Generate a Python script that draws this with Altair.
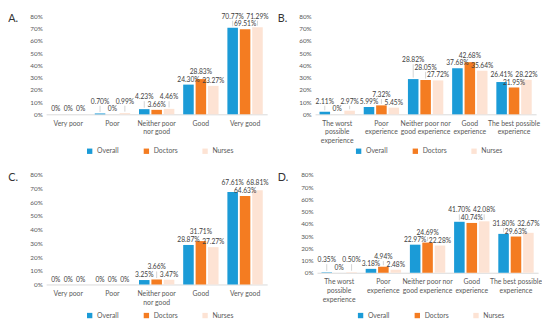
import altair as alt
import pandas as pd

series = ["Overall", "Doctors", "Nurses"]
colors = ["#1b9bd7", "#f47c21", "#fde3d4"]

cats_rating = ["Very poor", "Poor", "Neither poor|nor good", "Good", "Very good"]
cats_exp = ["The worst|possible|experience", "Poor|experience",
            "Neither poor nor|good experience", "Good|experience",
            "The best possible|experience"]

a_overall = [0, 0.70, 4.23, 24.30, 70.77]
a_doctors = [0, 0, 3.66, 28.83, 69.51]
a_nurses = [0, 0.99, 4.46, 23.27, 71.29]

b_overall = [2.11, 5.99, 28.82, 37.68, 26.41]
b_doctors = [0, 7.32, 28.05, 42.68, 21.95]
b_nurses = [2.97, 5.45, 27.72, 35.64, 28.22]

c_overall = [0, 0, 3.25, 28.87, 67.61]
c_doctors = [0, 0, 3.66, 31.71, 64.63]
c_nurses = [0, 0, 3.47, 27.27, 68.81]

d_overall = [0.35, 3.18, 22.97, 41.70, 31.80]
d_doctors = [0, 4.94, 24.69, 40.74, 29.63]
d_nurses = [0.50, 2.48, 22.28, 42.08, 32.67]

yticks = [0, 0.1, 0.2, 0.3, 0.4, 0.5, 0.6, 0.7, 0.8]
FONT = "Lato"
W = 226
FS = 6.8


def place_labels(vals, labels, h, slot):
    """Greedy placement of data labels (pixels above the axis), lowest bars first."""
    tops = [v / 80 * h for v in vals]
    widths = [len(t) * FS * 0.55 for t in labels]
    order = sorted(range(3), key=lambda i: (tops[i], i))
    placed = {}
    for i in order:
        L = tops[i] + 2
        moved = True
        while moved:
            moved = False
            for j, Lj in placed.items():
                hov = abs(i - j) * slot < (widths[i] + widths[j]) / 2 + 1
                vov = abs(L - Lj) < FS
                if hov and vov:
                    L = Lj + FS + 1
                    moved = True
        placed[i] = L
    return [placed[i] for i in range(3)], tops


def panel(title, cats, ov, dr, nu, h, legend_y):
    slot = W / 5 * 0.8 / 3
    rows = []
    for k, c in enumerate(cats):
        vals = [ov[k], dr[k], nu[k]]
        labels = ["0%" if v == 0 else f"{v:.2f}%" for v in vals]
        Ls, tops = place_labels(vals, labels, h, slot)
        for s, v, lab, L, t in zip(series, vals, labels, Ls, tops):
            rows.append({"cat": c, "series": s, "v": v / 100, "label": lab,
                         "ly": L / h * 0.8, "lead": (L - t) > 6,
                         "lt": (t + 1.5) / h * 0.8, "lb": (L - 1) / h * 0.8})
    df = pd.DataFrame(rows)
    x = alt.X("cat:N", sort=cats, title=None,
              scale=alt.Scale(paddingInner=0.2, paddingOuter=0.1),
              axis=alt.Axis(labelAngle=0, labelExpr="split(datum.value, '|')",
                            ticks=False, domainColor="#d9d9d9", labelFontSize=7,
                            labelColor="#595959", labelPadding=5,
                            labelLineHeight=9, labelFont=FONT))
    xo = alt.XOffset("series:N", sort=series, scale=alt.Scale(paddingInner=0.15))
    yscale = alt.Scale(domain=[0, 0.8])
    yaxis = alt.Axis(format=".0%", values=yticks, grid=False, domain=False,
                     ticks=False, title=None, labelFontSize=6.5,
                     labelOverlap=False, labelColor="#595959",
                     labelPadding=4, labelFont=FONT)
    color = alt.Color("series:N", sort=series,
                      scale=alt.Scale(domain=series, range=colors),
                      legend=alt.Legend(orient="none", legendX=W / 2 - 72, legendY=legend_y,
                                        direction="horizontal", title=None,
                                        symbolType="square", symbolSize=30,
                                        labelFontSize=7, labelFont=FONT,
                                        labelColor="#595959", columnPadding=24,
                                        symbolStrokeWidth=0))
    base = alt.Chart(df)
    bars = base.mark_bar().encode(
        x=x, xOffset=xo, y=alt.Y("v:Q", scale=yscale, axis=yaxis), color=color)
    leads = base.transform_filter("datum.lead").mark_rule(
        color="#c8c8c8", strokeWidth=0.8).encode(
        x=x, xOffset=xo, y=alt.Y("lt:Q", scale=yscale, axis=yaxis), y2="lb:Q")
    text = base.mark_text(baseline="bottom", fontSize=FS, font=FONT,
                          color="#404040").encode(
        x=x, xOffset=xo, y=alt.Y("ly:Q", scale=yscale, axis=yaxis), text="label:N")
    return alt.layer(bars, leads, text).properties(
        width=W, height=h,
        title=alt.TitleParams(title, orient="left", angle=0, anchor="end",
                              fontSize=11, fontWeight="normal", font=FONT,
                              color="#333333", baseline="top", offset=2))


pa = panel("A.", cats_rating, a_overall, a_doctors, a_nurses, 100, 134)
pb = panel("B.", cats_exp, b_overall, b_doctors, b_nurses, 100, 134)
pc = panel("C.", cats_rating, c_overall, c_doctors, c_nurses, 112, 140)
pd_ = panel("D.", cats_exp, d_overall, d_doctors, d_nurses, 100, 140)

chart = alt.vconcat(
    alt.hconcat(pa, pb, spacing=8).resolve_scale(color="independent"),
    alt.hconcat(pc, pd_, spacing=8).resolve_scale(color="independent"),
    spacing=18,
).resolve_scale(color="independent").properties(
    padding={"left": 0, "top": 2, "right": 0, "bottom": 16}
).configure_view(stroke=None)

chart.save("out.html", embed_options={"renderer": "svg", "actions": False})
